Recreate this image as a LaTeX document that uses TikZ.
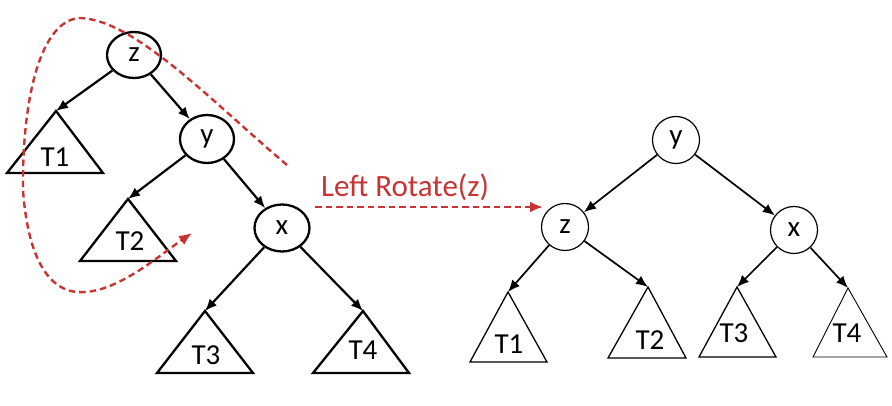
\documentclass[tikz,border=0pt]{standalone}
\usepackage{fontspec}
\setmainfont{Carlito}
\usetikzlibrary{arrows.meta,shapes.geometric}
\definecolor{rotred}{RGB}{200,52,52}
\begin{document}
\begin{tikzpicture}[x=1pt,y=-1pt,
  lnode/.style={ellipse,draw,line width=2.3pt,minimum width=54pt,minimum height=46pt,inner sep=0pt,font=\fontsize{29}{29}\selectfont},
  rnode/.style={circle,draw,line width=1.2pt,minimum size=47pt,inner sep=0pt,font=\fontsize{29}{29}\selectfont},
  ledge/.style={-{Latex[length=12pt,width=10pt]},line width=2.2pt},
  redge/.style={-{Latex[length=12pt,width=10pt]},line width=1.7pt},
  ltri/.style={draw,line width=2.3pt,line join=miter},
  rtri/.style={draw,line width=1.3pt,line join=miter},
  tlabel/.style={inner sep=0pt,font=\fontsize{29}{29}\selectfont},
  reddash/.style={draw=rotred,dash pattern=on 6.5pt off 4pt,line width=2.4pt},
  redtip/.style={-{Latex[length=13pt,width=11pt]}}
]
\useasboundingbox (0,0) rectangle (892,406);

% ---------- left tree ----------
\node[lnode] (lz) at (134,55) {z};
\node[lnode,minimum height=48pt] (ly) at (207,139) {y};
\node[lnode,minimum width=55pt,minimum height=47pt] (lx) at (282,228) {x};

\coordinate (lt1a) at (56,111);
\draw[ltri] (lt1a) -- (103,173) -- (7,173) -- cycle;
\node[tlabel] (lt1) at (55,157) {T1};

\coordinate (lt2a) at (128,199);
\draw[ltri] (lt2a) -- (176,261) -- (80,261) -- cycle;
\node[tlabel] (lt2) at (130,241) {T2};

\coordinate (lt3a) at (205,311);
\draw[ltri] (lt3a) -- (253,373) -- (157,373) -- cycle;
\node[tlabel] (lt3) at (206,355) {T3};

\coordinate (lt4a) at (363,311);
\draw[ltri] (lt4a) -- (409,373) -- (313,373) -- cycle;
\node[tlabel] (lt4) at (363,350) {T4};

\draw[ledge] (lz) -- (lt1a);
\draw[ledge] (lz) -- (ly);
\draw[ledge] (ly) -- (lt2a);
\draw[ledge] (ly) -- (lx);
\draw[ledge] (lx) -- (lt3a);
\draw[ledge] (lx) -- (lt4a);

% ---------- red dashed curve ----------
\coordinate (cs) at (287,165);
\coordinate (ce) at (192,233);
\draw[reddash,redtip] (cs) .. controls (210,100) and (135,20) .. (80,18)
  .. controls (40,20) and (22,100) .. (23,190)
  .. controls (28,260) and (50,295) .. (85,292)
  .. controls (120,290) and (160,255) .. (ce);

% ---------- rotate arrow ----------
\coordinate (ra) at (315,207);
\coordinate (rb) at (543,207);
\draw[reddash,redtip] (ra) -- (rb);
\node[text=rotred,font=\fontsize{31}{31}\selectfont,inner sep=0pt] (lbl) at (405,187) {Left Rotate(z)};

% ---------- right tree ----------
\node[rnode] (ry) at (676,140) {y};
\node[rnode] (rz) at (565,227) {z};
\node[rnode] (rx) at (794,230) {x};

\coordinate (rt1a) at (508,292);
\draw[rtri] (rt1a) -- (547,362) -- (470,362) -- cycle;
\node[tlabel] (rt1) at (509,344) {T1};

\coordinate (rt2a) at (648,287);
\draw[rtri] (rt2a) -- (686,358) -- (608,358) -- cycle;
\node[tlabel] (rt2) at (650,340) {T2};

\coordinate (rt3a) at (737,287);
\draw[rtri] (rt3a) -- (776,357) -- (699,357) -- cycle;
\node[tlabel] (rt3) at (734,333) {T3};

\coordinate (rt4a) at (848,288);
\draw[rtri,line width=0.9pt] (rt4a) -- (887,357) -- (813,357) -- cycle;
\node[tlabel] (rt4) at (847,333) {T4};

\draw[redge] (ry) -- (rz);
\draw[redge] (ry) -- (rx);
\draw[redge] (rz) -- (rt1a);
\draw[redge] (rz) -- (rt2a);
\draw[redge] (rx) -- (rt3a);
\draw[redge] (rx) -- (rt4a);
\end{tikzpicture}
\end{document}
